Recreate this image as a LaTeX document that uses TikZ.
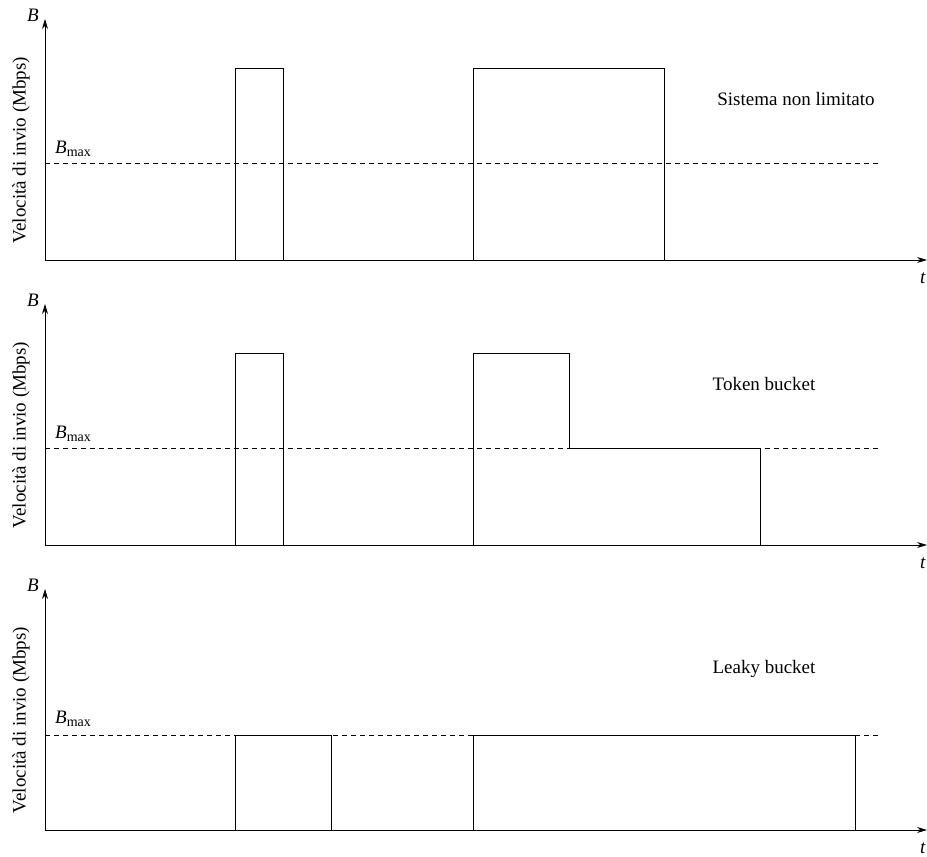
\documentclass[tikz,border=0pt]{standalone}
\usepackage{fontspec}
\setmainfont{Liberation Serif}
\usetikzlibrary{arrows.meta}
\begin{document}
\begin{tikzpicture}[x=1pt,y=-1pt,
  font=\fontsize{19}{22}\selectfont,
  axis/.style={-{Stealth[length=10pt,width=6pt]}, line width=0.8pt},
  sig/.style={line width=0.8pt},
  lim/.style={line width=0.6pt, dash pattern=on 5pt off 4pt},
  lbl/.style={inner sep=0pt},
  ylab/.style={inner sep=0pt, rotate=90}]
\useasboundingbox (0,0) rectangle (927,857);
\newcommand{\Bmax}{\textit{B}\raisebox{-0.35ex}{\fontsize{14}{15}\selectfont max}}
% ---------- panel 1 ----------
\begin{scope}[name prefix=p1-]
  \coordinate (o) at (45,260);
  \coordinate (ytop) at (45,19);
  \coordinate (xend) at (927,260);
  \coordinate (ls) at (45,163);
  \coordinate (le) at (878,163);
  \draw[lim] (ls) -- (le);
  \draw[axis] (o) -- (ytop);
  \draw[axis] (o) -- (xend);
  \node[lbl] (B) at (33,15) {\textit{B}};
  \node[lbl] (t) at (923,278) {\textit{t}};
  \node[lbl, anchor=base west] (bm) at (55,153) {\Bmax};
  \node[ylab] (yl) at (21,150) {Velocità di invio (Mbps)};
  \node[lbl] (name) at (796,99) {Sistema non limitato};
  \coordinate (a0) at (235,260); \coordinate (a1) at (235,68);
  \coordinate (a2) at (283,68);  \coordinate (a3) at (283,260);
  \coordinate (b0) at (473,260); \coordinate (b1) at (473,68);
  \coordinate (b2) at (664,68);  \coordinate (b3) at (664,260);
  \draw[sig] (a0) -- (a1) -- (a2) -- (a3);
  \draw[sig] (b0) -- (b1) -- (b2) -- (b3);
\end{scope}
% ---------- panel 2 ----------
\begin{scope}[name prefix=p2-]
  \coordinate (o) at (45,545);
  \coordinate (ytop) at (45,304);
  \coordinate (xend) at (927,545);
  \coordinate (ls) at (45,448);
  \coordinate (le) at (878,448);
  \draw[lim] (ls) -- (le);
  \draw[axis] (o) -- (ytop);
  \draw[axis] (o) -- (xend);
  \node[lbl] (B) at (33,300) {\textit{B}};
  \node[lbl] (t) at (923,563) {\textit{t}};
  \node[lbl, anchor=base west] (bm) at (55,438) {\Bmax};
  \node[ylab] (yl) at (21,435) {Velocità di invio (Mbps)};
  \node[lbl] (name) at (764,384) {Token bucket};
  \coordinate (a0) at (235,545); \coordinate (a1) at (235,353);
  \coordinate (a2) at (283,353); \coordinate (a3) at (283,545);
  \coordinate (b0) at (473,545); \coordinate (b1) at (473,353);
  \coordinate (b2) at (569,353); \coordinate (b3) at (569,448);
  \coordinate (b4) at (760,448); \coordinate (b5) at (760,545);
  \draw[sig] (a0) -- (a1) -- (a2) -- (a3);
  \draw[sig] (b0) -- (b1) -- (b2) -- (b3) -- (b4) -- (b5);
\end{scope}
% ---------- panel 3 ----------
\begin{scope}[name prefix=p3-]
  \coordinate (o) at (45,830);
  \coordinate (ytop) at (45,589);
  \coordinate (xend) at (927,830);
  \coordinate (ls) at (45,735);
  \coordinate (le) at (878,735);
  \draw[lim] (ls) -- (le);
  \draw[axis] (o) -- (ytop);
  \draw[axis] (o) -- (xend);
  \node[lbl] (B) at (33,585) {\textit{B}};
  \node[lbl] (t) at (923,848) {\textit{t}};
  \node[lbl, anchor=base west] (bm) at (55,723) {\Bmax};
  \node[ylab] (yl) at (21,720) {Velocità di invio (Mbps)};
  \node[lbl] (name) at (764,669) {Leaky bucket};
  \coordinate (a0) at (235,830); \coordinate (a1) at (235,735);
  \coordinate (a2) at (331,735); \coordinate (a3) at (331,830);
  \coordinate (b0) at (473,830); \coordinate (b1) at (473,735);
  \coordinate (b2) at (855,735); \coordinate (b3) at (855,830);
  \draw[sig] (a0) -- (a1) -- (a2) -- (a3);
  \draw[sig] (b0) -- (b1) -- (b2) -- (b3);
\end{scope}
\end{tikzpicture}
\end{document}
